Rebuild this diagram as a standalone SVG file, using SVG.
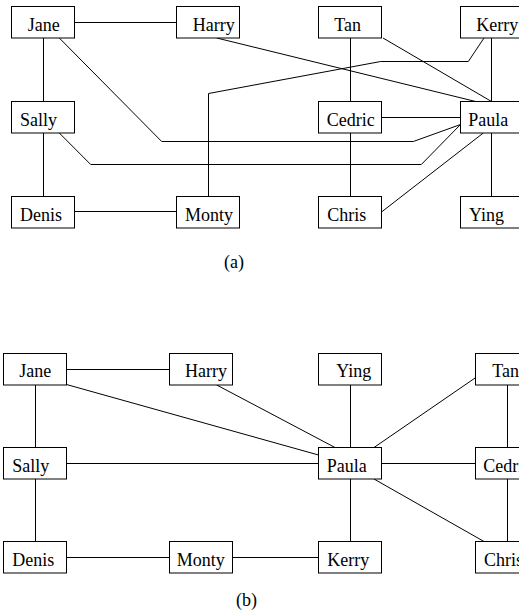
<svg xmlns="http://www.w3.org/2000/svg" width="519" height="610" viewBox="0 0 519 610">
<style>
rect{fill:#fff;stroke:#000;stroke-width:1}
text{font-family:"Liberation Serif","Times New Roman",serif;font-size:18px;fill:#000}
#connectors polyline,#connectors line{fill:none;stroke:#000;stroke-width:1}
</style>
<rect x="0" y="0" width="519" height="610" style="stroke:none"/>
<g id="connectors">
<!-- (a) -->
<line x1="74.5" y1="22.5" x2="176.5" y2="22.5"/>
<line x1="43.5" y1="38" x2="43.5" y2="101.5"/>
<line x1="43.5" y1="133" x2="43.5" y2="196.5"/>
<line x1="74.5" y1="211.5" x2="176.5" y2="211.5"/>
<polyline points="59.3,38 161.7,141.5 413.3,141.5 460.5,124.5"/>
<polyline points="59.3,133 90.7,164.5 421.3,164.5 460.5,124.5"/>
<polyline points="208.5,196.5 208.5,93.5 380.7,61.5 468.3,61.5 484,38"/>
<line x1="216.7" y1="38" x2="475.7" y2="101.5"/>
<line x1="383" y1="38" x2="491.5" y2="101.5"/>
<line x1="491.5" y1="38" x2="491.5" y2="101.5"/>
<line x1="350.5" y1="38" x2="350.5" y2="101.5"/>
<line x1="350.5" y1="133" x2="350.5" y2="196.5"/>
<line x1="381.5" y1="117.5" x2="460.5" y2="117.5"/>
<line x1="483.3" y1="133" x2="381.5" y2="212"/>
<line x1="491.5" y1="133" x2="491.5" y2="196.5"/>
<!-- (b) -->
<line x1="66.5" y1="369.5" x2="169.5" y2="369.5"/>
<line x1="35.5" y1="385" x2="35.5" y2="447.5"/>
<line x1="35.5" y1="479" x2="35.5" y2="541.5"/>
<line x1="66.5" y1="557.5" x2="169.5" y2="557.5"/>
<line x1="232.5" y1="557.5" x2="318.5" y2="557.5"/>
<line x1="66.5" y1="384.5" x2="318.5" y2="455"/>
<line x1="216.7" y1="385" x2="335" y2="447.5"/>
<line x1="66.5" y1="463.5" x2="318.5" y2="463.5"/>
<line x1="350.5" y1="385" x2="350.5" y2="447.5"/>
<line x1="374" y1="447.5" x2="475.5" y2="377.7"/>
<line x1="381.5" y1="463.5" x2="475.5" y2="463.5"/>
<line x1="507.5" y1="385" x2="507.5" y2="447.5"/>
<line x1="507.5" y1="479" x2="507.5" y2="541.5"/>
<line x1="374" y1="479" x2="484" y2="541.5"/>
<line x1="350.5" y1="479" x2="350.5" y2="541.5"/>
</g>
<!-- (a) nodes -->
<g id="a-jane"><rect x="11.5" y="6.5" width="63" height="31.5"/><text x="27.7" y="31">Jane</text></g>
<g id="a-harry"><rect x="176.5" y="6.5" width="63" height="31.5"/><text x="192.7" y="31">Harry</text></g>
<g id="a-tan"><rect x="318.5" y="6.5" width="63" height="31.5"/><text x="334.3" y="31">Tan</text></g>
<g id="a-kerry"><rect x="460.5" y="6.5" width="63" height="31.5"/><text x="476.3" y="31">Kerry</text></g>
<g id="a-sally"><rect x="11.5" y="101.5" width="63" height="31.5"/><text x="20" y="125.5">Sally</text></g>
<g id="a-cedric"><rect x="318.5" y="101.5" width="63" height="31.5"/><text x="326.7" y="125.5">Cedric</text></g>
<g id="a-paula"><rect x="460.5" y="101.5" width="63" height="31.5"/><text x="468.3" y="125.5">Paula</text></g>
<g id="a-denis"><rect x="11.5" y="196.5" width="63" height="31.5"/><text x="20" y="220.5">Denis</text></g>
<g id="a-monty"><rect x="176.5" y="196.5" width="63" height="31.5"/><text x="185" y="220.5">Monty</text></g>
<g id="a-chris"><rect x="318.5" y="196.5" width="63" height="31.5"/><text x="327.3" y="220.5">Chris</text></g>
<g id="a-ying"><rect x="460.5" y="196.5" width="63" height="31.5"/><text x="469" y="220.5">Ying</text></g>
<text id="label-a" x="224" y="267.5">(a)</text>
<!-- (b) nodes -->
<g id="b-jane"><rect x="3.5" y="353.5" width="63" height="31.5"/><text x="19.3" y="377">Jane</text></g>
<g id="b-harry"><rect x="169.5" y="353.5" width="63" height="31.5"/><text x="185" y="377">Harry</text></g>
<g id="b-ying"><rect x="318.5" y="353.5" width="63" height="31.5"/><text x="336.3" y="377">Ying</text></g>
<g id="b-tan"><rect x="475.5" y="353.5" width="63" height="31.5"/><text x="492.3" y="377">Tan</text></g>
<g id="b-sally"><rect x="3.5" y="447.5" width="63" height="31.5"/><text x="12.3" y="471.5">Sally</text></g>
<g id="b-paula"><rect x="318.5" y="447.5" width="63" height="31.5"/><text x="326.7" y="471.5">Paula</text></g>
<g id="b-cedric"><rect x="475.5" y="447.5" width="63" height="31.5"/><text x="483.3" y="471.5">Cedric</text></g>
<g id="b-denis"><rect x="3.5" y="541.5" width="63" height="31.5"/><text x="12.3" y="566">Denis</text></g>
<g id="b-monty"><rect x="169.5" y="541.5" width="63" height="31.5"/><text x="176.7" y="566">Monty</text></g>
<g id="b-kerry"><rect x="318.5" y="541.5" width="63" height="31.5"/><text x="327.3" y="566">Kerry</text></g>
<g id="b-chris"><rect x="475.5" y="541.5" width="63" height="31.5"/><text x="484" y="566">Chris</text></g>
<text id="label-b" x="236" y="606">(b)</text>
</svg>
